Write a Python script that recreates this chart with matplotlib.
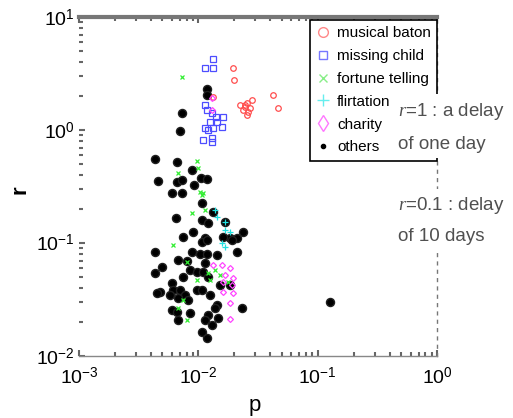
import matplotlib
matplotlib.use("Agg")
import matplotlib.pyplot as plt
from matplotlib.lines import Line2D

plt.rcParams['font.family'] = ['Liberation Sans', 'DejaVu Sans']
plt.rcParams['mathtext.fontset'] = 'custom'
plt.rcParams['mathtext.rm'] = 'Liberation Sans'
plt.rcParams['mathtext.it'] = 'Liberation Serif:italic'

# ---- data (p, r) ----
others_p = [0.01183, 0.01183, 0.00730, 0.00703, 0.00434, 0.00663, 0.00885, 0.00459, 0.00663, 0.00730,
            0.00920, 0.01054, 0.01183, 0.00602, 0.00730, 0.01074, 0.00650, 0.01074, 0.01206, 0.01329,
            0.01674, 0.02370, 0.00903, 0.00745, 0.01138, 0.01844, 0.02110, 0.01074, 0.01183, 0.01611,
            0.01916, 0.02110, 0.00434, 0.00885, 0.01033, 0.01183, 0.01434, 0.00676, 0.00804, 0.01138,
            0.00496, 0.00434, 0.00852, 0.00975, 0.01095, 0.00745, 0.01206, 0.00602, 0.01520, 0.01844,
            0.00477, 0.00613, 0.00703, 0.00774, 0.00975, 0.01074, 0.01253, 0.00451, 0.00579, 0.00676,
            0.00820, 0.01434, 0.01380, 0.02323, 0.00602, 0.00663, 0.00852, 0.00676, 0.01206, 0.01462,
            0.01138, 0.01303, 0.01074, 0.01183, 0.127]
others_r = [2.31, 2.04, 1.41, 0.980, 0.553, 0.521, 0.443, 0.354, 0.347, 0.361,
            0.326, 0.376, 0.368, 0.277, 0.277, 0.226, 0.166, 0.160, 0.150, 0.188,
            0.153, 0.125, 0.125, 0.113, 0.111, 0.111, 0.111, 0.102, 0.106, 0.113,
            0.106, 0.0832, 0.0832, 0.0832, 0.0799, 0.0799, 0.0783, 0.0708, 0.0693, 0.0666,
            0.0614, 0.0543, 0.0577, 0.0554, 0.0554, 0.0500, 0.0500, 0.0443, 0.0425, 0.0425,
            0.0368, 0.0384, 0.0384, 0.0347, 0.0384, 0.0384, 0.0347, 0.0361, 0.0347, 0.0326,
            0.0313, 0.0283, 0.0266, 0.0266, 0.0255, 0.0245, 0.0240, 0.0208, 0.0231, 0.0217,
            0.0208, 0.0188, 0.0163, 0.0144, 0.0301]

baton_p = [0.01953, 0.01991, 0.01329, 0.02370, 0.02462, 0.02560, 0.02610, 0.02712, 0.02462, 0.02560,
           0.0223, 0.0282, 0.0423, 0.0466]
baton_r = [3.54, 2.77, 1.96, 1.50, 1.66, 1.73, 1.44, 1.57, 1.60, 1.36,
           1.66, 1.84, 2.04, 1.57]

child_p = [0.01329, 0.01138, 0.01329, 0.01183, 0.01138, 0.01303, 0.01407, 0.01611, 0.01253, 0.01434,
           0.01329, 0.01206, 0.01303, 0.01095, 0.01303, 0.01580, 0.01138]
child_r = [4.25, 3.54, 3.54, 1.50, 1.66, 1.41, 1.30, 1.30, 1.18, 1.18,
           1.04, 1.00, 0.849, 0.816, 0.783, 1.06, 1.04]

fortune_p = [0.00730, 0.00975, 0.00676, 0.00994, 0.01033, 0.01095, 0.01074, 0.00885, 0.01138, 0.00613,
             0.00804, 0.00975, 0.01206, 0.01253, 0.01380, 0.01520, 0.00745, 0.00676, 0.00804, 0.01774]
fortune_r = [2.94, 0.532, 0.416, 0.461, 0.283, 0.277, 0.266, 0.184, 0.196, 0.0960,
             0.0679, 0.0471, 0.0543, 0.0471, 0.0577, 0.0521, 0.0313, 0.0266, 0.0208, 0.0452]

flirt_p = [0.01380, 0.01434, 0.01674, 0.01844, 0.01674, 0.01580, 0.01674]
flirt_r = [0.196, 0.170, 0.153, 0.125, 0.130, 0.100, 0.0922]

charity_p = [0.01580, 0.01844, 0.01674, 0.01953, 0.01611, 0.01916, 0.01611, 0.01953, 0.01844, 0.01844,
             0.01329, 0.01303, 0.01303]
charity_r = [0.0639, 0.0601, 0.0521, 0.0490, 0.0452, 0.0425, 0.0368, 0.0361, 0.0294, 0.0212,
             0.0639, 1.92, 1.50]

labels = ['musical baton', 'missing child', 'fortune telling', 'flirtation', 'charity', 'others']

W, H = 513, 418
fig = plt.figure(figsize=(W / 100, H / 100), dpi=100)
ax = fig.add_axes([79 / W, (H - 356) / H, (437 - 79) / W, (356 - 17) / H])
ax.set_xscale('log')
ax.set_yscale('log')
ax.set_xlim(1e-3, 1)
ax.set_ylim(1e-2, 10)

ax.plot(others_p, others_r, 'o', color='black', ms=5.8, mec='#202020', zorder=2)
ax.plot(baton_p, baton_r, 'o', mfc='none', mec='#ff4d4d', ms=4, mew=0.9, zorder=3)
ax.plot(child_p, child_r, 's', mfc='none', mec='#4d4dff', ms=4, mew=0.9, zorder=3)
ax.plot(fortune_p, fortune_r, 'x', color='#33ee33', ms=3.5, mew=0.9, zorder=3)
ax.plot(flirt_p, flirt_r, '+', color='#22e0e0', ms=4, mew=0.9, zorder=3)
ax.plot(charity_p, charity_r, 'D', mfc='none', mec='#ff44ff', ms=3, mew=0.9, zorder=3)

handles = [
    Line2D([], [], ls='none', marker='o', mfc='none', mec='#ff8888', ms=7, mew=1.0),
    Line2D([], [], ls='none', marker='s', mfc='none', mec='#7777ff', ms=6, mew=1.0),
    Line2D([], [], ls='none', marker='x', color='#88ee88', ms=6, mew=1.0),
    Line2D([], [], ls='none', marker='+', color='#66eeee', ms=8, mew=1.0),
    Line2D([], [], ls='none', marker='d', mfc='none', mec='#ff77ff', ms=8, mew=1.0),
    Line2D([], [], ls='none', marker='o', color='black', ms=3),
]
leg = ax.legend(handles, labels, loc='upper right', bbox_to_anchor=(1.0, 0.991),
                borderaxespad=0, fontsize=11, fancybox=False, framealpha=1,
                edgecolor='black', handlelength=0.9, handletextpad=0.45,
                labelspacing=0.58, borderpad=0.4)
leg.get_frame().set_linewidth(1.2)

ax.spines['left'].set_visible(False)
ax.spines['top'].set_color('#777777')
ax.spines['top'].set_linewidth(3)
ax.spines['bottom'].set_color('#888888')
ax.spines['bottom'].set_linewidth(1)
ax.spines['right'].set_color('#777777')
ax.spines['right'].set_linestyle((0, (2, 4)))
ax.spines['right'].set_linewidth(1)

ax.tick_params(which='both', direction='in', color='#666666', labelsize=14,
               top=True, right=False)
ax.tick_params(which='major', length=4, width=1.5)
ax.tick_params(which='minor', length=3, width=1.5)
ax.tick_params(axis='x', pad=8)
ax.tick_params(axis='y', pad=3)
ax.set_xticks([1e-3, 1e-2, 1e-1, 1e0])
ax.set_xticklabels([r'$10^{-3}$', r'$10^{-2}$', r'$10^{-1}$', r'$10^{0}$'])
ax.set_yticks([1e-2, 1e-1, 1e0, 1e1])
ax.set_yticklabels([r'$10^{-2}$', r'$10^{-1}$', r'$10^{0}$', r'$10^{1}$'])

fig.text(255 / W, 1 - 405 / H, 'p', fontsize=16, ha='center', va='center')
fig.text(20 / W, 1 - 190 / H, 'r', fontsize=16, ha='center', va='center', rotation=90,
         fontweight='bold')

txtc = '#505050'
fig.text(398 / W, 1 - 127 / H, '$\\mathit{r}$=1 : a delay\nof one day', fontsize=13.5, color=txtc,
         ha='left', va='center', linespacing=2.05,
         bbox=dict(facecolor='white', edgecolor='none', boxstyle='square,pad=0.25'), zorder=10)
fig.text(398 / W, 1 - 220 / H, '$\\mathit{r}$=0.1 : delay\nof 10 days', fontsize=13.5, color=txtc,
         ha='left', va='center', linespacing=1.85,
         bbox=dict(facecolor='white', edgecolor='none', boxstyle='square,pad=0.25'), zorder=10)

fig.savefig('out.png', dpi=100)
